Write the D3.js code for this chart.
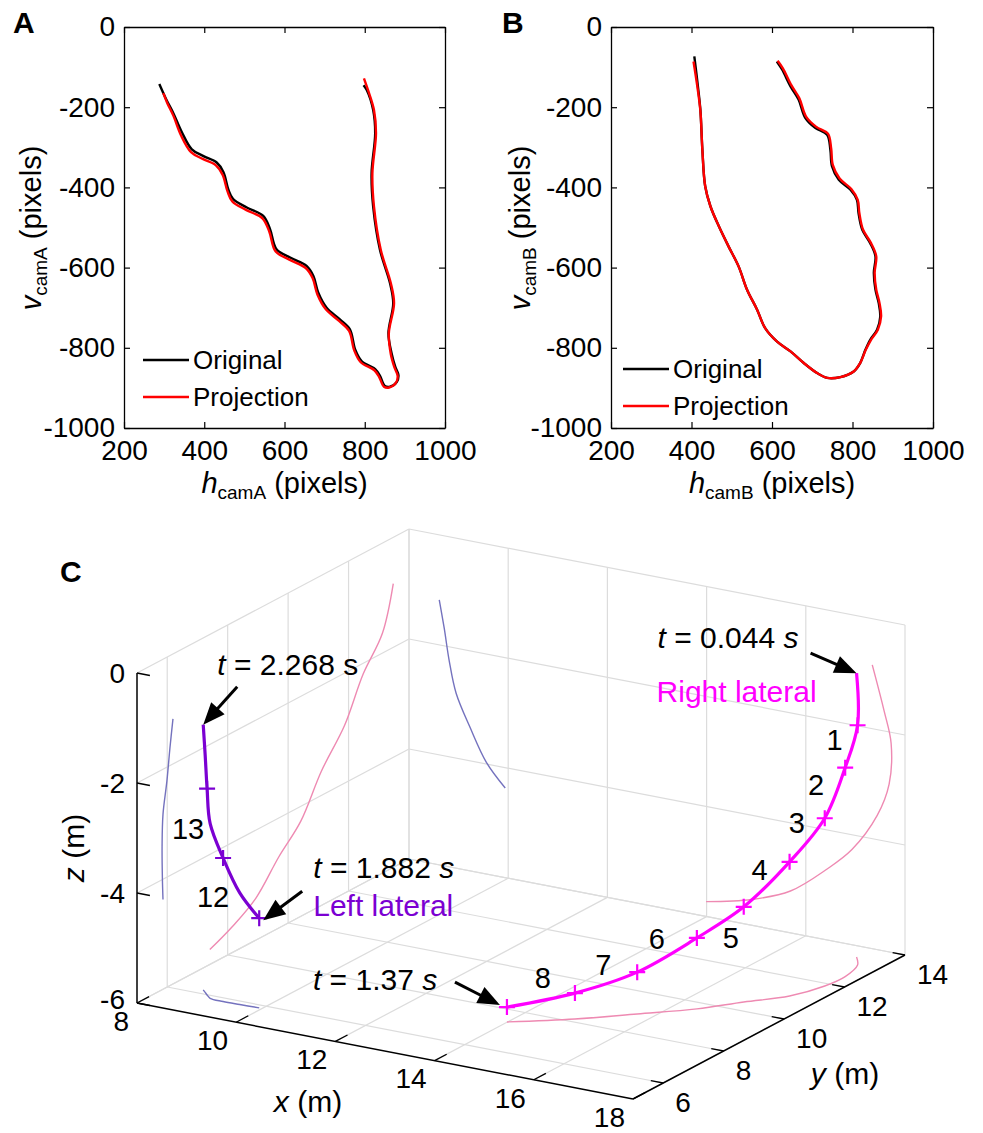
<!DOCTYPE html>
<html>
<head>
<meta charset="utf-8">
<script src="https://cdn.jsdelivr.net/npm/d3@7"></script>
<style>
  body { margin: 0; background: #fff; }
  svg text { font-family: "Liberation Sans", Arial, sans-serif; }
</style>
</head>
<body>
<svg id="fig" width="983" height="1133"></svg>
<script>
// ---- panel A / B : camera tracks (h, v) in pixels ----
const hTicks = [200, 400, 600, 800, 1000];
const vTicks = [0, -200, -400, -600, -800, -1000];

const camAOriginal = [[288,-142],[306,-182],[323,-215],[344,-262],[369,-305],[398,-322],[431,-338],[448,-362],[460,-405],[472,-429],[506,-450],[547,-471],[564,-504],[580,-554],[614,-575],[655,-596],[672,-621],[684,-662],[705,-700],[738,-729],[763,-754],[776,-804],[792,-833],[826,-853],[838,-870],[850,-895],[863,-897],[880,-885],[884,-868],[876,-847],[867,-814],[859,-764],[871,-689],[863,-639],[838,-556],[821,-448],[817,-365],[826,-265],[821,-207],[805,-157],[797,-145]];
const camAProjection = [[298,-165],[308,-190],[323,-221],[342,-270],[367,-312],[396,-329],[429,-345],[446,-369],[458,-410],[470,-435],[504,-456],[545,-477],[562,-510],[578,-560],[612,-580],[653,-601],[670,-626],[682,-667],[703,-704],[736,-733],[761,-758],[774,-807],[790,-836],[824,-856],[836,-873],[848,-897],[861,-899],[878,-887],[882,-870],[874,-849],[865,-816],[860,-764],[873,-689],[865,-639],[840,-556],[823,-448],[819,-365],[828,-265],[823,-207],[808,-157],[798,-128]];

const camBOriginal = [[407,-73],[415,-140],[422,-206],[427,-306],[434,-397],[447,-447],[468,-497],[492,-547],[517,-597],[538,-655],[563,-705],[583,-751],[612,-784],[646,-809],[679,-838],[712,-863],[737,-875],[770,-873],[803,-859],[819,-838],[832,-805],[844,-780],[861,-755],[869,-722],[865,-688],[857,-655],[853,-613],[857,-572],[844,-539],[824,-505],[815,-464],[811,-431],[795,-406],[766,-381],[749,-347],[745,-306],[737,-269],[708,-252],[683,-227],[666,-181],[646,-148],[625,-106],[612,-86]];
const camBProjection = [[405,-86],[414,-145],[422,-208],[427,-306],[434,-397],[447,-447],[468,-497],[492,-547],[517,-597],[538,-655],[563,-705],[583,-751],[612,-784],[646,-809],[679,-838],[712,-863],[737,-875],[770,-873],[803,-859],[819,-838],[833,-805],[846,-780],[863,-755],[871,-722],[867,-688],[859,-655],[855,-613],[859,-572],[846,-539],[826,-505],[817,-464],[813,-431],[797,-404],[768,-378],[751,-344],[747,-303],[739,-266],[710,-249],[685,-224],[668,-178],[648,-145],[627,-103],[614,-84]];

// ---- panel C : 3D trajectories (m) ----
const xTicks3 = [8, 10, 12, 14, 16, 18];
const yTicks3 = [6, 8, 10, 12, 14];
const zTicks3 = [-6, -4, -2, 0];

const rightX = [17.34, 17.58, 17.72, 17.68, 17.44, 16.93, 16.43, 15.69, 14.91, 13.99];
const rightY = [13.48, 13.12, 12.48, 11.87, 11.10, 10.42, 9.69, 8.93, 8.15, 7.41];
const rightZ = [-0.84, -1.64, -2.20, -2.95, -3.56, -4.27, -4.71, -5.24, -5.53, -5.73];
const rightMarks = [1, 2, 3, 4, 5, 6, 7, 8, 9];
const rightNumbers = ["1", "2", "3", "4", "5", "6", "7", "8"];

const leftX = [8.61, 8.71, 8.81, 8.95, 9.23, 9.56, 9.94];
const leftY = [6.19, 6.09, 5.99, 5.86, 5.83, 5.84, 5.86];
const leftZ = [-1.18, -1.68, -2.25, -2.82, -3.39, -3.97, -4.37];
const leftMarks = [2, 4, 6];
const leftNumbers = ["13", "12"];

const FONT = '"Liberation Sans", Arial, sans-serif';
const MAGENTA = "#ff00ff", PURPLE = "#7b00d2", PINK = "#ee8ab2", LILAC = "#7472be", GRID = "#dcdcdc";

const svg = d3.select("#fig");
svg.append("rect").attr("width", 983).attr("height", 1133).attr("fill", "#fff");

// ================= 2D panels =================
const panels = [
  {letter: "A", lx: 13, cam: "camA", x0: 124, x1: 445, orig: camAOriginal, proj: camAProjection,
   leg: {x: 143, y: 360}, ylab: 41},
  {letter: "B", lx: 502, cam: "camB", x0: 611, x1: 933, orig: camBOriginal, proj: camBProjection,
   leg: {x: 623, y: 369}, ylab: 530}
];

panels.forEach(p => {
  const h = d3.scaleLinear().domain([200, 1000]).range([p.x0, p.x1]);
  const v = d3.scaleLinear().domain([-1000, 0]).range([428, 27]);
  const g = svg.append("g");

  const styleAxis = sel => {
    sel.attr("font-size", 28).attr("font-family", FONT);
    sel.select(".domain").attr("stroke", "#000").attr("stroke-width", 1.3);
    sel.selectAll(".tick line").attr("stroke", "#000").attr("stroke-width", 1.2);
    sel.selectAll(".tick text").attr("fill", "#000");
  };

  g.append("g").attr("transform", `translate(0,428)`)
    .call(d3.axisBottom(h).tickValues(hTicks).tickSizeInner(-6).tickSizeOuter(0).tickPadding(12).tickFormat(d => String(d)))
    .call(styleAxis);
  g.append("g").attr("transform", `translate(0,27)`)
    .call(d3.axisTop(h).tickValues(hTicks).tickSizeInner(-6).tickSizeOuter(0).tickFormat(() => ""))
    .call(styleAxis);
  g.append("g").attr("transform", `translate(${p.x0},0)`)
    .call(d3.axisLeft(v).tickValues(vTicks).tickSizeInner(-6).tickSizeOuter(0).tickPadding(9).tickFormat(d => String(d)))
    .call(styleAxis);
  g.append("g").attr("transform", `translate(${p.x1},0)`)
    .call(d3.axisRight(v).tickValues(vTicks).tickSizeInner(-6).tickSizeOuter(0).tickFormat(() => ""))
    .call(styleAxis);

  const line = d3.line().x(d => h(d[0])).y(d => v(d[1])).curve(d3.curveCatmullRom);
  g.append("path").attr("d", line(p.orig)).attr("fill", "none").attr("stroke", "#000").attr("stroke-width", 2.4);
  g.append("path").attr("d", line(p.proj)).attr("fill", "none").attr("stroke", "#ff0000").attr("stroke-width", 2.4);

  // legend
  [["Original", "#000", 0], ["Projection", "#ff0000", 37]].forEach(([lab, col, off]) => {
    g.append("line").attr("x1", p.leg.x).attr("x2", p.leg.x + 46)
      .attr("y1", p.leg.y + off).attr("y2", p.leg.y + off)
      .attr("stroke", col).attr("stroke-width", 2.4);
    g.append("text").attr("x", p.leg.x + 50).attr("y", p.leg.y + off).attr("dy", "0.35em")
      .attr("font-size", 26).text(lab);
  });

  // axis titles
  const xt = g.append("text").attr("x", (p.x0 + p.x1) / 2).attr("y", 493)
    .attr("text-anchor", "middle").attr("font-size", 29);
  xt.append("tspan").attr("font-style", "italic").text("h");
  xt.append("tspan").attr("font-size", 19).attr("dy", 6).text(p.cam);
  xt.append("tspan").attr("dy", -6).text(" (pixels)");

  const yt = g.append("text").attr("transform", `translate(${p.ylab},228) rotate(-90)`)
    .attr("text-anchor", "middle").attr("font-size", 29);
  yt.append("tspan").attr("font-style", "italic").text("v");
  yt.append("tspan").attr("font-size", 19).attr("dy", 6).text(p.cam);
  yt.append("tspan").attr("dy", -6).text(" (pixels)");

  g.append("text").attr("x", p.lx).attr("y", 33).attr("font-size", 30).attr("font-weight", "bold").text(p.letter);
});

// ================= 3D panel C =================
const ORIGIN = [137, 1003], EX = [496, 96], EY = [272, -144];
const fx = d3.scaleLinear().domain([8, 18]).range([0, 1]);
const fy = d3.scaleLinear().domain([5, 14]).range([0, 1]);
const pz = d3.scaleLinear().domain([-6, 0]).range([0, -330]);
const X0 = 8, X1 = 18, Y0 = 5, Y1 = 14, Z0 = -6, Z1 = 0;

function proj(x, y, z) {
  const a = fx(x), b = fy(y);
  return [ORIGIN[0] + a * EX[0] + b * EY[0], ORIGIN[1] + a * EX[1] + b * EY[1] + pz(z)];
}

const c = svg.append("g");
const seg = (p, q, col, w) => c.append("line")
  .attr("x1", p[0]).attr("y1", p[1]).attr("x2", q[0]).attr("y2", q[1])
  .attr("stroke", col).attr("stroke-width", w);

// grid on the three back planes
zTicks3.forEach(z => {
  seg(proj(X0, Y0, z), proj(X0, Y1, z), GRID, 1.2);
  seg(proj(X0, Y1, z), proj(X1, Y1, z), GRID, 1.2);
});
yTicks3.forEach(y => {
  seg(proj(X0, y, Z0), proj(X0, y, Z1), GRID, 1.2);
  seg(proj(X0, y, Z0), proj(X1, y, Z0), GRID, 1.2);
});
xTicks3.forEach(x => {
  seg(proj(x, Y1, Z0), proj(x, Y1, Z1), GRID, 1.2);
  seg(proj(x, Y0, Z0), proj(x, Y1, Z0), GRID, 1.2);
});

// axes
seg(proj(X0, Y0, Z0), proj(X0, Y0, Z1), "#000", 1.5);
seg(proj(X0, Y0, Z0), proj(X1, Y0, Z0), "#000", 1.5);
seg(proj(X1, Y0, Z0), proj(X1, Y1, Z0), "#000", 1.5);

const tickFont = 28;
zTicks3.forEach(z => {
  const p = proj(X0, Y0, z);
  seg(p, proj(X0 + 0.26, Y0, z), "#000", 1.3);
  c.append("text").attr("x", p[0] - 12).attr("y", p[1] - (z === Z0 ? 4 : 0)).attr("dy", "0.35em")
    .attr("text-anchor", "end").attr("font-size", tickFont).text(String(z));
});
xTicks3.forEach(x => {
  const p = proj(x, Y0, Z0);
  seg(p, proj(x, Y0 + 0.4, Z0), "#000", 1.3);
  c.append("text").attr("x", p[0] - 8).attr("y", p[1] + 18).attr("dy", "0.35em")
    .attr("text-anchor", "end").attr("font-size", tickFont).text(String(x));
});
yTicks3.forEach(y => {
  const p = proj(X1, y, Z0);
  seg(p, proj(X1 - 0.25, y, Z0), "#000", 1.3);
  c.append("text").attr("x", p[0] + 12).attr("y", p[1] + 19).attr("dy", "0.35em")
    .attr("text-anchor", "start").attr("font-size", tickFont).text(String(y));
});

// axis titles
function title(t, x, y, rot) {
  const tx = c.append("text").attr("text-anchor", "middle").attr("font-size", 30)
    .attr("transform", `translate(${x},${y})` + (rot ? " rotate(-90)" : ""));
  tx.append("tspan").attr("font-style", "italic").text(t);
  tx.append("tspan").text(" (m)");
}
title("z", 84, 848, true);
title("x", 308, 1112, false);
title("y", 845, 1084, false);

c.append("text").attr("x", 60).attr("y", 582).attr("font-size", 30).attr("font-weight", "bold").text("C");

// trajectories and their projections
const path3 = d3.line().curve(d3.curveCatmullRom);
function track(X, Y, Z, mainCol, shadowCol) {
  const n = X.length, idx = d3.range(n);
  const shadows = [
    idx.map(i => proj(X0, Y[i], Z[i])),
    idx.map(i => proj(X[i], Y1, Z[i])),
    idx.map(i => proj(X[i], Y[i], Z0))
  ];
  shadows.forEach(s => c.append("path").attr("d", path3(s)).attr("fill", "none")
    .attr("stroke", shadowCol).attr("stroke-width", 1.4));
  const pts = idx.map(i => proj(X[i], Y[i], Z[i]));
  c.append("path").attr("d", path3(pts)).attr("fill", "none")
    .attr("stroke", mainCol).attr("stroke-width", 3.2);
  return pts;
}
const rightPts = track(rightX, rightY, rightZ, MAGENTA, PINK);
const leftPts = track(leftX, leftY, leftZ, PURPLE, LILAC);

function plus(p, col) {
  c.append("path").attr("d", `M${p[0] - 8},${p[1]}H${p[0] + 8}M${p[0]},${p[1] - 8}V${p[1] + 8}`)
    .attr("stroke", col).attr("stroke-width", 2.2).attr("fill", "none");
}
rightMarks.forEach(i => plus(rightPts[i], MAGENTA));
leftMarks.forEach(i => plus(leftPts[i], PURPLE));

// stride numbers, offsets from their marker
const rightNumOffsets = [[-23, 15], [-29, 17], [-28, 5], [-30, 8], [-13, 31], [-40, 1], [-34, -7], [-32, -15]];
rightNumbers.forEach((t, k) => {
  const p = rightPts[rightMarks[k]], o = rightNumOffsets[k];
  c.append("text").attr("x", p[0] + o[0]).attr("y", p[1] + o[1]).attr("dy", "0.35em")
    .attr("text-anchor", "middle").attr("font-size", 29).text(t);
});
const leftNumOffsets = [[-19, 40], [-10, 39]];
leftNumbers.forEach((t, k) => {
  const p = leftPts[leftMarks[k]], o = leftNumOffsets[k];
  c.append("text").attr("x", p[0] + o[0]).attr("y", p[1] + o[1]).attr("dy", "0.35em")
    .attr("text-anchor", "middle").attr("font-size", 29).text(t);
});

// arrows + time annotations
function arrow(tail, tip) {
  const dx = tip[0] - tail[0], dy = tip[1] - tail[1], L = Math.hypot(dx, dy);
  const ux = dx / L, uy = dy / L, hl = 22, hw = 9;
  const bx = tip[0] - ux * hl, by = tip[1] - uy * hl;
  c.append("line").attr("x1", tail[0]).attr("y1", tail[1]).attr("x2", bx + ux * 2).attr("y2", by + uy * 2)
    .attr("stroke", "#000").attr("stroke-width", 3);
  c.append("path").attr("d", `M${tip[0]},${tip[1]}L${bx - uy * hw},${by + ux * hw}L${bx + uy * hw},${by - ux * hw}Z`)
    .attr("fill", "#000");
}
function note(p, dx, dy, parts, col) {
  const t = c.append("text").attr("x", p[0] + dx).attr("y", p[1] + dy).attr("font-size", 30).attr("fill", col);
  parts.forEach(([s, it]) => t.append("tspan").attr("font-style", it ? "italic" : "normal").text(s));
}

const rs = rightPts[0], re = rightPts[rightPts.length - 1];
const ls = leftPts[0], le = leftPts[leftPts.length - 1];

arrow([rs[0] - 46, rs[1] - 20], [rs[0], rs[1]]);
note(rs, -199, -25, [["t", 1], [" = 0.044 ", 0], ["s", 1]], "#000");
note(rs, -200, 29, [["Right lateral", 0]], MAGENTA);

arrow([ls[0] + 34, ls[1] - 38], [ls[0], ls[1]]);
note(ls, 14, -50, [["t", 1], [" = 2.268 s", 0]], "#000");

arrow([le[0] + 43, le[1] - 27], [le[0] + 4, le[1] + 2]);
note(le, 54, -40, [["t", 1], [" = 1.882 ", 0], ["s", 1]], "#000");
note(le, 54, -2, [["Left lateral", 0]], PURPLE);

arrow([re[0] - 52, re[1] - 25], [re[0] - 7, re[1] - 2]);
note(re, -194, -17, [["t", 1], [" = 1.37 ", 0], ["s", 1]], "#000");
</script>
</body>
</html>
